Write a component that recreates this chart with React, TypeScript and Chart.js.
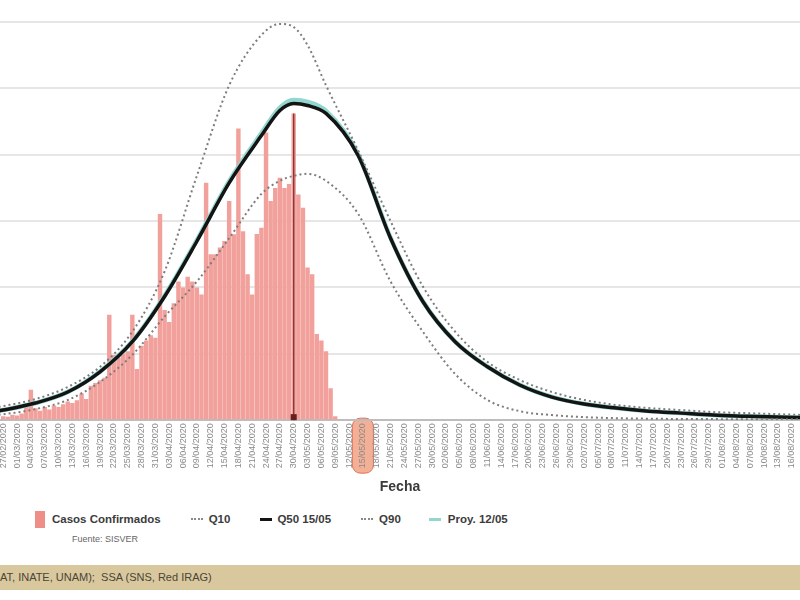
import React, { useEffect, useRef } from "react";
import { Chart, registerables } from "chart.js";

Chart.register(...registerables);

// Day 0 = 27/02/2020 ; ticks every 3 days
const START_Y = 2020;
const START_M = 2;
const START_D = 27;
const TICK_STEP = 3;
const TICK_LAST = 171;
const HIGHLIGHT_DAY = 78; // 15/05/2020
const PEAK_DAY = 63;

// Confirmed cases per day (index = day)
const CASES = [
  30, 25, 40, 35, 50, 110, 230, 90, 70, 100, 80, 110, 100, 120, 140, 130, 150, 200, 160, 260,
  280, 300, 320, 795, 490, 470, 500, 520, 795, 386, 560, 600, 640, 620, 1553, 830, 740, 880, 1045, 1000,
  1080, 1045, 1000, 947, 1788, 1250, 1250, 1300, 1350, 1652, 1400, 2197, 1424, 1100, 947, 1402, 1450, 2167, 1652, 1750,
  1826, 1750, 1780, 2311, 1700, 1600, 1150, 1100, 650, 600, 520, 240, 30,
];

// Model curves sampled at these days
const LINE_DAYS = [-1, 0, 7, 14, 21, 28, 35, 42, 49, 56, 60, 63, 66, 70, 77, 84, 91, 98, 105, 112, 119, 126, 133, 140, 147, 154, 161, 168, 174];
const Q50 = [70, 76, 129, 212, 364, 591, 932, 1348, 1788, 2144, 2333, 2386, 2371, 2311, 1992, 1371, 894, 591, 402, 265, 174, 121, 91, 68, 53, 38, 30, 23, 19];
const PROY = [70, 76, 129, 213, 366, 594, 937, 1356, 1800, 2163, 2355, 2412, 2398, 2330, 2000, 1374, 896, 592, 403, 266, 175, 122, 91, 68, 53, 38, 30, 23, 19];
const Q90 = [100, 106, 159, 250, 402, 667, 1121, 1841, 2523, 2902, 2985, 2962, 2826, 2523, 2030, 1500, 1008, 667, 439, 303, 212, 152, 114, 91, 76, 61, 53, 45, 38];
const Q10 = [42, 45, 83, 152, 288, 492, 780, 1045, 1371, 1705, 1803, 1841, 1856, 1803, 1553, 1045, 667, 348, 152, 68, 38, 23, 15, 11, 9, 8, 7, 6, 6];

const Y_MAX = 3000;
const Y_STEP = 500;
const X_MIN = -0.7;
const X_MAX = 172.8;

const FONT = "'Liberation Sans', Arial, sans-serif";

function fmtDay(d: number): string {
  const dt = new Date(START_Y, START_M - 1, START_D + d);
  const dd = String(dt.getDate()).padStart(2, "0");
  const mm = String(dt.getMonth() + 1).padStart(2, "0");
  return `${dd}/${mm}/${dt.getFullYear()}`;
}

export default function App() {
  const ref = useRef<HTMLCanvasElement>(null);

  useEffect(() => {
    document.body.style.margin = "0";
    const canvas = ref.current;
    if (!canvas) return;

    const pts = (vals: number[]) => LINE_DAYS.map((d, i) => ({ x: d, y: vals[i] }));

    const overlay = {
      id: "overlay",
      beforeDraw(chart: any) {
        const { ctx, chartArea } = chart;
        const xs = chart.scales.x;
        const px = xs.getPixelForValue(HIGHLIGHT_DAY);
        ctx.save();
        ctx.beginPath();
        (ctx as any).roundRect(px - 10.5, chartArea.bottom - 2, 21, 55, 8);
        ctx.fillStyle = "rgba(240,150,115,0.75)";
        ctx.fill();
        ctx.strokeStyle = "rgba(215,105,75,0.9)";
        ctx.lineWidth = 1;
        ctx.stroke();
        ctx.restore();
      },
      afterDatasetsDraw(chart: any) {
        const { ctx, chartArea } = chart;
        const xs = chart.scales.x;
        const ys = chart.scales.y;
        const px = xs.getPixelForValue(PEAK_DAY);
        const py = ys.getPixelForValue(CASES[PEAK_DAY]);
        ctx.save();
        ctx.strokeStyle = "#8a3434";
        ctx.lineWidth = 1.4;
        ctx.beginPath();
        ctx.moveTo(px, py);
        ctx.lineTo(px, chartArea.bottom);
        ctx.stroke();
        ctx.fillStyle = "#6a1f1f";
        ctx.fillRect(px - 3, chartArea.bottom - 6, 6, 6);
        ctx.restore();
      },
    };

    const chart = new Chart(canvas, {
      data: {
        datasets: [
          {
            type: "line",
            label: "Q10",
            data: pts(Q10),
            borderColor: "#7d7d7d",
            borderWidth: 2,
            borderDash: [2, 3],
            pointRadius: 0,
            cubicInterpolationMode: "monotone",
            order: 1,
          },
          {
            type: "line",
            label: "Q90",
            data: pts(Q90),
            borderColor: "#7d7d7d",
            borderWidth: 2,
            borderDash: [2, 3],
            pointRadius: 0,
            cubicInterpolationMode: "monotone",
            order: 1,
          },
          {
            type: "line",
            label: "Q50 15/05",
            data: pts(Q50),
            borderColor: "#141414",
            borderWidth: 3.5,
            pointRadius: 0,
            cubicInterpolationMode: "monotone",
            order: 2,
          },
          {
            type: "line",
            label: "Proy. 12/05",
            data: pts(PROY),
            borderColor: "#93d6cf",
            borderWidth: 4.5,
            pointRadius: 0,
            cubicInterpolationMode: "monotone",
            order: 3,
          },
          {
            type: "bar",
            label: "Casos Confirmados",
            data: CASES.map((v, i) => ({ x: i, y: v })),
            backgroundColor: "#f2a09b",
            barPercentage: 0.96,
            categoryPercentage: 1,
            order: 5,
          },
        ] as any,
      },
      options: {
        animation: false,
        responsive: true,
        maintainAspectRatio: false,
        events: [],
        layout: { padding: { top: 22, left: 0, right: 0, bottom: 0 } },
        plugins: {
          legend: { display: false },
          tooltip: { enabled: false },
        },
        scales: {
          x: {
            type: "linear",
            min: X_MIN,
            max: X_MAX,
            offset: false,
            grid: { display: false, drawTicks: false },
            border: { display: true, color: "#bdbdbd", width: 2 },
            afterBuildTicks: (scale: any) => {
              const t: { value: number }[] = [];
              for (let d = 0; d <= TICK_LAST; d += TICK_STEP) t.push({ value: d });
              scale.ticks = t;
            },
            afterFit: (scale: any) => {
              scale.paddingLeft = 0;
              scale.paddingRight = 0;
            },
            ticks: {
              autoSkip: false,
              minRotation: 90,
              maxRotation: 90,
              padding: 3,
              color: "#8a8a8a",
              font: { family: FONT, size: 9 },
              callback: (v: any) => fmtDay(Number(v)),
            },
            title: {
              display: true,
              text: "Fecha",
              color: "#3a3a3a",
              font: { family: FONT, size: 14, weight: "bold" },
              padding: { top: 8, bottom: 4 },
            },
          },
          y: {
            type: "linear",
            min: 0,
            max: Y_MAX,
            grid: {
              color: "#e6e6e6",
              lineWidth: 2,
              drawTicks: false,
            },
            border: { display: false },
            ticks: { display: false, stepSize: Y_STEP },
          },
        },
      } as any,
      plugins: [overlay],
    });

    return () => chart.destroy();
  }, []);

  const legendText: React.CSSProperties = {
    fontFamily: FONT,
    fontWeight: "bold",
    fontSize: 11.5,
    color: "#3c3c3c",
    whiteSpace: "nowrap",
  };

  return (
    <div style={{ position: "fixed", left: 0, top: 0, width: 800, height: 600, background: "#ffffff", overflow: "hidden" }}>
      <div style={{ position: "absolute", left: 0, top: 0, width: 800, height: 500 }}>
        <canvas ref={ref} />
      </div>

      <div style={{ position: "absolute", left: 35, top: 510, display: "flex", alignItems: "center", height: 18 }}>
        <span style={{ display: "inline-block", width: 10, height: 17, background: "#ef8e89", marginRight: 7 }} />
        <span style={legendText}>Casos Confirmados</span>

        <span style={{ display: "inline-block", width: 12, borderTop: "2px dotted #8a8a8a", marginLeft: 30, marginRight: 6 }} />
        <span style={legendText}>Q10</span>

        <span style={{ display: "inline-block", width: 12, height: 3, background: "#141414", marginLeft: 30, marginRight: 5 }} />
        <span style={legendText}>Q50 15/05</span>

        <span style={{ display: "inline-block", width: 12, borderTop: "2px dotted #8a8a8a", marginLeft: 30, marginRight: 6 }} />
        <span style={legendText}>Q90</span>

        <span style={{ display: "inline-block", width: 12, height: 3, background: "#93d6cf", marginLeft: 28, marginRight: 7 }} />
        <span style={legendText}>Proy. 12/05</span>
      </div>

      <div style={{ position: "absolute", left: 72, top: 534, fontFamily: FONT, fontSize: 9, color: "#666" }}>
        Fuente: SISVER
      </div>

      <div
        style={{
          position: "absolute",
          left: 0,
          top: 565,
          width: 800,
          height: 25,
          background: "#d9c89e",
          fontFamily: FONT,
          fontSize: 11,
          lineHeight: "25px",
          color: "#4a4536",
          whiteSpace: "nowrap",
        }}
      >
        AT, INATE, UNAM);&nbsp;&nbsp;SSA (SNS, Red IRAG)
      </div>
    </div>
  );
}
